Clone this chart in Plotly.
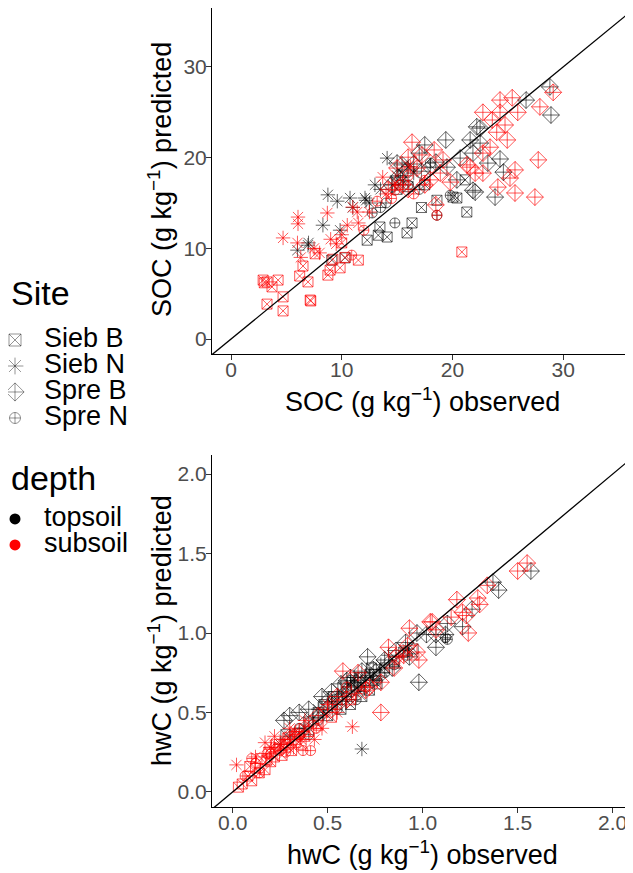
import plotly.graph_objects as go

# ---- SOC panel (g kg-1): observed x, predicted y ----
soc_siebB_sub_x = [2.9, 3.25, 4.25, 3.7, 3.25, 4.7, 4.7, 7.15, 6.2, 6.95, 7.2, 6.5, 8.75, 8.95, 9.85, 11.5, 20.85, 9.2, 10.3, 7.6, 10.0, 3.0]
soc_siebB_sub_y = [6.5, 6.3, 6.5, 5.75, 3.85, 4.65, 3.1, 4.3, 6.95, 6.3, 4.2, 8.05, 7.05, 7.6, 7.85, 8.7, 9.6, 8.8, 9.0, 9.4, 10.6, 6.2]
soc_siebB_top_x = [9.1, 10.3, 12.3, 13.3, 14.1, 15.9, 16.35, 20.4, 21.3, 20.05, 21.15, 13.45, 17.2, 18.6, 16.0, 15.0, 17.5]
soc_siebB_top_y = [8.7, 8.95, 10.9, 11.45, 11.25, 11.7, 12.8, 15.55, 14.0, 15.65, 17.55, 12.35, 14.5, 15.3, 16.8, 16.5, 17.0]

soc_siebN_top_x = [6.0, 6.95, 8.3, 8.75, 9.6, 10.75, 12.1, 12.2, 14.1, 9.85, 11.0, 12.5, 13.5, 15.5, 7.0, 16.0, 14.6, 15.0, 16.5, 13.0]
soc_siebN_top_y = [9.8, 10.35, 12.55, 15.9, 15.2, 15.55, 15.55, 15.3, 19.95, 12.0, 14.5, 15.0, 16.5, 17.5, 10.6, 19.0, 17.0, 18.0, 18.3, 17.0]
soc_siebN_sub_x = [6.05, 6.05, 4.7, 6.0, 8.7, 11.0, 11.4, 10.5, 11.5, 13.7, 7.5, 8.0, 9.0, 9.5, 10.0, 12.5, 14.0, 6.3, 14.8, 16.2]
soc_siebN_sub_y = [13.45, 12.7, 11.15, 10.6, 13.9, 14.55, 14.0, 12.55, 12.8, 17.85, 10.0, 9.5, 11.0, 10.5, 11.5, 14.0, 16.0, 9.0, 17.2, 19.0]

soc_spreB_sub_x = [25.4, 24.3, 22.75, 24.3, 25.9, 23.6, 24.75, 24.0, 24.95, 23.4, 22.75, 27.9, 29.1, 27.75, 25.65, 25.2, 24.1, 25.65, 27.45,
                   22.75, 22.05, 21.6, 19.15, 16.35, 18.35, 17.25, 16.0, 15.0, 16.8, 18.0, 18.9, 19.8, 18.5, 21.3, 15.5, 17.5, 14.2, 16.0]
soc_spreB_sub_y = [26.6, 26.35, 25.0, 25.0, 25.0, 24.15, 23.6, 22.8, 21.95, 21.15, 20.5, 25.6, 27.2, 19.75, 18.65, 17.75, 16.75, 16.1, 15.65,
                   18.3, 18.3, 18.95, 19.75, 21.7, 20.85, 20.3, 20.05, 18.85, 18.85, 17.55, 18.3, 17.3, 14.8, 19.2, 17.0, 17.0, 16.5, 16.5]
soc_spreB_top_x = [17.5, 19.4, 21.6, 22.2, 21.85, 22.5, 26.65, 28.8, 28.9, 24.3, 23.2, 24.6, 22.05, 23.85, 22.5, 20.7, 19.5, 15.45,
                   15.1, 18.0, 20.4, 15.0, 15.9, 16.5, 17.2, 14.5, 21.85, 18.5, 17.0]
soc_spreB_top_y = [21.4, 21.95, 21.95, 23.4, 20.5, 21.6, 26.35, 27.8, 24.7, 19.85, 19.4, 18.4, 16.2, 15.65, 23.25, 19.95, 18.95, 19.2,
                   17.85, 18.95, 17.55, 19.4, 18.65, 19.3, 18.5, 17.0, 16.4, 19.5, 20.5]

soc_spreN_top_x = [12.75, 14.8, 19.8, 18.6, 18.0, 17.0, 16.0, 14.0, 13.5, 15.3]
soc_spreN_top_y = [13.9, 12.8, 15.85, 13.65, 19.4, 16.5, 17.0, 15.0, 14.5, 18.0]
soc_spreN_sub_x = [10.9, 14.8, 18.6, 12.0, 16.5, 17.5, 15.3, 13.2, 16.0, 14.5]
soc_spreN_sub_y = [9.25, 16.4, 13.65, 12.0, 16.0, 17.5, 17.0, 15.2, 18.0, 15.5]

# ---- hwC panel (g kg-1) ----
hwc_siebB_sub_x = [0.03, 0.05, 0.08, 0.10, 0.09, 0.12, 0.14, 0.15, 0.17, 0.19, 0.20, 0.22, 0.24, 0.26, 0.28, 0.31, 0.33, 0.36, 0.40, 0.45,
                   0.52, 0.62, 0.18, 0.23, 0.29, 0.34, 0.38]
hwc_siebB_sub_y = [0.03, 0.05, 0.10, 0.07, 0.16, 0.15, 0.12, 0.21, 0.14, 0.25, 0.19, 0.22, 0.27, 0.23, 0.30, 0.26, 0.33, 0.30, 0.38, 0.42,
                   0.47, 0.58, 0.20, 0.30, 0.34, 0.36, 0.35]
hwc_siebB_top_x = [0.28, 0.35, 0.40, 0.45, 0.48, 0.50, 0.55, 0.60, 0.62, 0.65, 0.68, 0.70, 0.72, 0.75, 0.80, 0.85, 0.90, 0.95, 0.76,
                   0.53, 0.58, 0.63, 0.67, 0.73, 0.57]
hwc_siebB_top_y = [0.36, 0.37, 0.44, 0.50, 0.55, 0.48, 0.58, 0.63, 0.55, 0.66, 0.60, 0.70, 0.64, 0.74, 0.78, 0.82, 0.88, 0.90, 0.68,
                   0.60, 0.66, 0.70, 0.72, 0.78, 0.52]

hwc_siebN_sub_x = [0.02, 0.20, 0.22, 0.25, 0.30, 0.32, 0.36, 0.43, 0.40, 0.47, 0.50, 0.55, 0.63, 0.33, 0.27, 0.65, 0.88, 0.17, 0.29, 0.38, 0.12]
hwc_siebN_sub_y = [0.17, 0.28, 0.35, 0.30, 0.40, 0.28, 0.33, 0.33, 0.42, 0.40, 0.55, 0.50, 0.41, 0.38, 0.33, 0.62, 0.85, 0.31, 0.30, 0.45, 0.22]
hwc_siebN_top_x = [0.68, 0.25, 0.30, 0.38, 0.42, 0.48, 0.52, 0.58, 0.62, 0.66, 0.70, 0.74, 0.78, 0.82, 0.92, 0.60, 0.55, 0.64, 0.69, 0.45]
hwc_siebN_top_y = [0.27, 0.30, 0.35, 0.40, 0.46, 0.50, 0.56, 0.62, 0.68, 0.64, 0.72, 0.70, 0.80, 0.86, 0.90, 0.57, 0.60, 0.72, 0.66, 0.52]

hwc_spreB_sub_x = [0.58, 0.66, 0.78, 0.78, 0.82, 0.86, 0.93, 0.97, 0.98, 1.04, 1.07, 1.05, 1.15, 1.18, 1.21, 1.23, 1.24, 1.29, 1.30,
                   1.34, 1.50, 1.55, 0.90, 0.72, 0.85, 0.45, 0.50, 0.55, 0.60, 0.35, 0.70, 0.92]
hwc_spreB_sub_y = [0.76, 0.75, 0.69, 0.50, 0.91, 0.85, 1.03, 0.88, 0.83, 1.07, 1.02, 1.07, 1.10, 1.21, 1.13, 1.11, 1.00, 1.22, 1.18,
                   1.30, 1.39, 1.44, 0.86, 0.66, 0.78, 0.48, 0.52, 0.60, 0.58, 0.38, 0.64, 0.92]
hwc_spreB_top_x = [0.27, 0.30, 0.40, 0.47, 0.52, 0.57, 0.62, 0.66, 0.71, 0.74, 0.80, 0.86, 0.91, 0.97, 0.98, 1.02, 1.07, 1.07,
                   1.12, 1.13, 1.21, 1.26, 1.37, 1.40, 1.57, 0.84, 0.77, 0.68, 0.93, 0.35, 0.50, 0.60, 0.64]
hwc_spreB_top_y = [0.45, 0.48, 0.52, 0.60, 0.63, 0.68, 0.72, 0.70, 0.85, 0.77, 0.83, 0.89, 0.94, 1.00, 0.69, 0.99, 0.91, 0.99,
                   0.99, 1.06, 1.04, 1.15, 1.32, 1.27, 1.39, 0.78, 0.73, 0.76, 0.85, 0.50, 0.57, 0.70, 0.66]

hwc_spreN_sub_x = [0.065, 0.10, 0.14, 0.12, 0.18, 0.25, 0.30, 0.37, 0.41, 0.44, 0.55, 0.60, 0.70, 0.35, 0.22, 0.28, 0.20]
hwc_spreN_sub_y = [0.10, 0.21, 0.12, 0.18, 0.24, 0.26, 0.33, 0.26, 0.26, 0.40, 0.55, 0.66, 0.66, 0.35, 0.28, 0.25, 0.24]
hwc_spreN_top_x = [0.35, 0.40, 0.45, 0.55, 0.60, 0.65, 0.72, 0.76, 0.80, 0.85, 0.92, 1.12, 1.13]
hwc_spreN_top_y = [0.40, 0.36, 0.45, 0.52, 0.60, 0.58, 0.75, 0.70, 0.75, 0.80, 0.86, 0.97, 0.96]

sites = ["Sieb B", "Sieb N", "Spre B", "Spre N"]
depths = ["topsoil", "subsoil"]
symbols = {"Sieb B": "square-x-open", "Sieb N": "asterisk-open",
           "Spre B": "diamond-cross-open", "Spre N": "circle-cross-open"}
sizes = {"Sieb B": 10, "Sieb N": 12, "Spre B": 13, "Spre N": 10}
depth_colors = {"topsoil": "rgba(0,0,0,0.6)", "subsoil": "rgba(255,0,0,0.65)"}

soc = {
    ("Sieb B", "topsoil"): (soc_siebB_top_x, soc_siebB_top_y),
    ("Sieb B", "subsoil"): (soc_siebB_sub_x, soc_siebB_sub_y),
    ("Sieb N", "topsoil"): (soc_siebN_top_x, soc_siebN_top_y),
    ("Sieb N", "subsoil"): (soc_siebN_sub_x, soc_siebN_sub_y),
    ("Spre B", "topsoil"): (soc_spreB_top_x, soc_spreB_top_y),
    ("Spre B", "subsoil"): (soc_spreB_sub_x, soc_spreB_sub_y),
    ("Spre N", "topsoil"): (soc_spreN_top_x, soc_spreN_top_y),
    ("Spre N", "subsoil"): (soc_spreN_sub_x, soc_spreN_sub_y),
}
hwc = {
    ("Sieb B", "topsoil"): (hwc_siebB_top_x, hwc_siebB_top_y),
    ("Sieb B", "subsoil"): (hwc_siebB_sub_x, hwc_siebB_sub_y),
    ("Sieb N", "topsoil"): (hwc_siebN_top_x, hwc_siebN_top_y),
    ("Sieb N", "subsoil"): (hwc_siebN_sub_x, hwc_siebN_sub_y),
    ("Spre B", "topsoil"): (hwc_spreB_top_x, hwc_spreB_top_y),
    ("Spre B", "subsoil"): (hwc_spreB_sub_x, hwc_spreB_sub_y),
    ("Spre N", "topsoil"): (hwc_spreN_top_x, hwc_spreN_top_y),
    ("Spre N", "subsoil"): (hwc_spreN_sub_x, hwc_spreN_sub_y),
}

FONT = "Liberation Sans, Arial, sans-serif"
# the page body keeps an 8px margin, so the figure is 8px smaller than the window
W, H = 625, 865
fig = go.Figure()

for data, xa, ya in [(soc, "x", "y"), (hwc, "x2", "y2")]:
    for depth in depths:
        for site in sites:
            px, py = data[(site, depth)]
            c = depth_colors[depth]
            fig.add_trace(go.Scatter(
                x=px, y=py, mode="markers", xaxis=xa, yaxis=ya, showlegend=False,
                marker=dict(symbol=symbols[site], size=sizes[site], color=c,
                            line=dict(color=c, width=1)),
                hoverinfo="skip"))

# 1:1 lines
fig.add_trace(go.Scatter(x=[-5, 40], y=[-5, 40], mode="lines", xaxis="x", yaxis="y",
                         line=dict(color="black", width=1.3), showlegend=False, hoverinfo="skip"))
fig.add_trace(go.Scatter(x=[-1, 3], y=[-1, 3], mode="lines", xaxis="x2", yaxis="y2",
                         line=dict(color="black", width=1.3), showlegend=False, hoverinfo="skip"))

# legend keys drawn on hidden categorical axes (x3 / y3, y4)
fig.add_trace(go.Scatter(
    x=[0] * len(sites), y=sites, mode="markers", xaxis="x3", yaxis="y3", showlegend=False,
    marker=dict(symbol=[symbols[s] for s in sites], size=[12, 14, 14, 11], color="rgba(0,0,0,0.6)",
                line=dict(color="rgba(0,0,0,0.6)", width=1)), hoverinfo="skip"))
fig.add_trace(go.Scatter(
    x=[1] * len(sites), y=sites, mode="text", text=sites, textposition="middle right",
    xaxis="x3", yaxis="y3", showlegend=False, hoverinfo="skip",
    textfont=dict(family=FONT, size=27, color="black")))
fig.add_trace(go.Scatter(
    x=[0] * len(depths), y=depths, mode="markers", xaxis="x3", yaxis="y4", showlegend=False,
    marker=dict(symbol="circle", size=11, color=["black", "red"]), hoverinfo="skip"))
fig.add_trace(go.Scatter(
    x=[1] * len(depths), y=depths, mode="text", text=depths, textposition="middle right",
    xaxis="x3", yaxis="y4", showlegend=False, hoverinfo="skip",
    textfont=dict(family=FONT, size=27, color="black")))

axis_common = dict(showgrid=False, zeroline=False, showline=True, linecolor="black",
                   linewidth=1, ticks="outside", ticklen=5, tickcolor="#333333", automargin=False,
                   tickfont=dict(family=FONT, size=21, color="#4D4D4D"))
hidden = dict(visible=False, showgrid=False, zeroline=False, automargin=False, fixedrange=True)

fig.update_layout(
    width=W, height=H,
    margin=dict(l=0, r=0, t=0, b=0),
    paper_bgcolor="white", plot_bgcolor="white",
    font=dict(family=FONT, color="black"),
    showlegend=False,
    xaxis=dict(domain=[0.3264, 0.9984], range=[-1.72, 36.22], tickvals=[0, 10, 20, 30],
               anchor="y", ticklabelstandoff=-8, **axis_common),
    yaxis=dict(domain=[0.6, 1.0], range=[-1.65, 36.5], tickvals=[0, 10, 20, 30],
               anchor="x", ticklabelstandoff=-5, **axis_common),
    xaxis2=dict(domain=[0.3264, 0.9984], range=[-0.109, 2.102], tickvals=[0, 0.5, 1, 1.5, 2],
                tickformat=".1f", anchor="y2", ticklabelstandoff=-8, **axis_common),
    yaxis2=dict(domain=[0.0763, 0.4832], range=[-0.095, 2.12], tickvals=[0, 0.5, 1, 1.5, 2],
                tickformat=".1f", anchor="x2", ticklabelstandoff=-5, **axis_common),
    xaxis3=dict(domain=[0.0, 0.25], range=[-0.241, 5.138], anchor="y3", **hidden),
    yaxis3=dict(domain=[0.511, 0.6312], range=[3.5, -0.5], type="category", anchor="x3", **hidden),
    yaxis4=dict(domain=[0.3642, 0.4243], range=[1.5, -0.5], type="category", anchor="x3", **hidden),
)

fig.add_annotation(text="Site", xref="paper", yref="paper", x=0.0016, y=0.6705,
                   xanchor="left", yanchor="middle", showarrow=False,
                   font=dict(family=FONT, size=34, color="black"))
fig.add_annotation(text="depth", xref="paper", yref="paper", x=0.0016, y=1 - 470 / 865,
                   xanchor="left", yanchor="middle", showarrow=False,
                   font=dict(family=FONT, size=34, color="black"))

title_font = dict(family=FONT, size=27, color="black")
fig.add_annotation(text="SOC (g kg<sup>−1</sup>) observed", xref="paper", yref="paper",
                   x=0.6624, y=0.5468, xanchor="center", yanchor="middle", showarrow=False, font=title_font)
fig.add_annotation(text="SOC (g kg<sup>−1</sup>) predicted", xref="paper", yref="paper",
                   x=0.2432, y=0.8012, xanchor="center", yanchor="middle", showarrow=False,
                   textangle=-90, font=title_font)
fig.add_annotation(text="hwC (g kg<sup>−1</sup>) observed", xref="paper", yref="paper",
                   x=0.6624, y=0.0231, xanchor="center", yanchor="middle", showarrow=False, font=title_font)
fig.add_annotation(text="hwC (g kg<sup>−1</sup>) predicted", xref="paper", yref="paper",
                   x=0.2432, y=0.2798, xanchor="center", yanchor="middle", showarrow=False,
                   textangle=-90, font=title_font)

fig.write_html("out.html")
